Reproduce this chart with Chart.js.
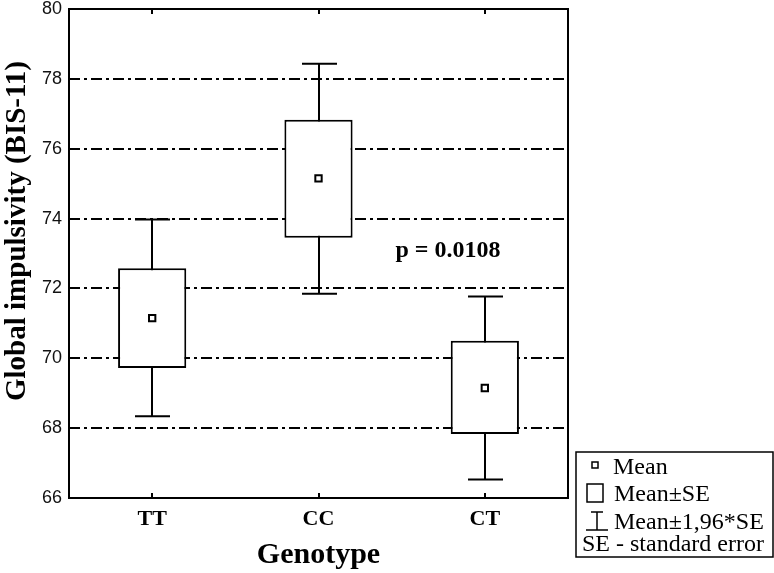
<!DOCTYPE html>
<html>
<head>
<meta charset="utf-8">
<script src="https://cdn.jsdelivr.net/npm/chart.js@4.4.1/dist/chart.umd.min.js"></script>
<style>
  html, body { margin: 0; padding: 0; background: #fff; }
  #wrap { width: 774px; height: 573px; position: relative; }
</style>
</head>
<body>
<div id="wrap"><canvas id="chart" width="774" height="573"></canvas></div>
<script>
const categories = ["TT", "CC", "CT"];
const means = [71.15, 75.15, 69.15];
const seLow = [69.72, 73.45, 67.83];
const seHigh = [72.58, 76.83, 70.5];
const ciLow = [68.34, 71.85, 66.53];
const ciHigh = [73.97, 78.43, 71.77];
const yMin = 66;
const yMax = 80;
const yStep = 2;
const pLabel = "p = 0.0108";
const yTitle = "Global impulsivity (BIS-11)";
const xTitle = "Genotype";
const legendItems = ["Mean", "Mean\u00b1SE", "Mean\u00b11,96*SE", "SE - standard error"];

const serif = "'Liberation Serif', 'Times New Roman', serif";
const sans = "'Liberation Sans', Arial, sans-serif";

// whiskers drawn under the boxes, frame + inner ticks, annotation and legend on top
const decorPlugin = {
  id: "decor",
  beforeDatasetsDraw(chart) {
    const { ctx, scales: { x, y } } = chart;
    ctx.save();
    ctx.strokeStyle = "#000";
    ctx.lineWidth = 2;
    categories.forEach((c, i) => {
      const cx = Math.round(x.getPixelForValue(i));
      const top = y.getPixelForValue(ciHigh[i]);
      const bot = y.getPixelForValue(ciLow[i]);
      ctx.beginPath();
      ctx.moveTo(cx, top);
      ctx.lineTo(cx, bot);
      ctx.moveTo(cx - 17, top);
      ctx.lineTo(cx + 18, top);
      ctx.moveTo(cx - 17, bot);
      ctx.lineTo(cx + 18, bot);
      ctx.stroke();
    });
    ctx.restore();
  },
  afterDraw(chart) {
    const { ctx, chartArea: a, scales: { x, y } } = chart;
    ctx.save();
    ctx.strokeStyle = "#000";
    ctx.lineWidth = 2;
    ctx.strokeRect(a.left, a.top, a.right - a.left, a.bottom - a.top);
    categories.forEach((c, i) => {
      const cx = Math.round(x.getPixelForValue(i));
      ctx.beginPath();
      ctx.moveTo(cx, a.top);
      ctx.lineTo(cx, a.top + 5);
      ctx.moveTo(cx, a.bottom);
      ctx.lineTo(cx, a.bottom - 5);
      ctx.stroke();
    });

    // y title
    ctx.fillStyle = "#000";
    ctx.font = "bold 29px " + serif;
    ctx.textAlign = "center";
    ctx.textBaseline = "middle";
    ctx.translate(18, 231);
    ctx.rotate(-Math.PI / 2);
    ctx.fillText(yTitle, 0, 0);
    ctx.setTransform(1, 0, 0, 1, 0, 0);

    // p value
    ctx.font = "bold 24px " + serif;
    ctx.textBaseline = "alphabetic";
    ctx.fillText(pLabel, 448, 257);

    // legend box
    ctx.lineWidth = 1.5;
    ctx.strokeRect(576, 452, 197, 105);
    ctx.strokeRect(592, 462, 6, 6);
    ctx.strokeRect(587, 484, 16, 18);
    ctx.beginPath();
    ctx.moveTo(591, 512); ctx.lineTo(603, 512);
    ctx.moveTo(597, 512); ctx.lineTo(597, 530);
    ctx.moveTo(586, 530); ctx.lineTo(608, 530);
    ctx.stroke();
    ctx.font = "24px " + serif;
    ctx.textAlign = "left";
    ctx.fillText(legendItems[0], 613, 474);
    ctx.fillText(legendItems[1], 614, 501);
    ctx.fillText(legendItems[2], 614, 529);
    ctx.fillText(legendItems[3], 582, 551);
    ctx.restore();
  }
};

new Chart(document.getElementById("chart"), {
  data: {
    labels: categories,
    datasets: [
      {
        type: "bar",
        data: categories.map((c, i) => [seLow[i], seHigh[i]]),
        backgroundColor: "#fff",
        borderColor: "#000",
        borderWidth: 2,
        borderSkipped: false,
        categoryPercentage: 1,
        barPercentage: 0.41,
        order: 2
      },
      {
        type: "line",
        data: means,
        showLine: false,
        pointStyle: "rect",
        pointRadius: 4.5,
        pointBorderWidth: 2,
        pointBackgroundColor: "#fff",
        pointBorderColor: "#000",
        order: 1
      }
    ]
  },
  options: {
    responsive: false,
    animation: false,
    layout: { padding: { top: 9, right: 206, bottom: 0, left: 0 } },
    plugins: { legend: { display: false }, tooltip: { enabled: false } },
    scales: {
      x: {
        grid: { display: false, drawTicks: false },
        border: { display: false },
        ticks: { color: "#000", padding: 8, font: { family: serif, size: 22, weight: "bold" } },
        title: {
          display: true,
          text: xTitle,
          color: "#000",
          padding: { top: 0, bottom: 0 },
          font: { family: serif, size: 30, weight: "bold" }
        },
        afterFit(s) { s.height = 75; s.paddingLeft = 0; s.paddingRight = 0; }
      },
      y: {
        min: yMin,
        max: yMax,
        ticks: {
          stepSize: yStep,
          color: "#111",
          padding: 7,
          font: { family: sans, size: 18 }
        },
        grid: {
          drawTicks: false,
          lineWidth: 2,
          color: (c) => (c.tick && (c.tick.value === yMin || c.tick.value === yMax) ? "rgba(0,0,0,0)" : "#000")
        },
        border: { display: false, dash: [11, 4, 3, 4] },
        afterFit(s) { s.width = 69; s.paddingTop = 0; s.paddingBottom = 0; }
      }
    }
  },
  plugins: [decorPlugin]
});
</script>
</body>
</html>
